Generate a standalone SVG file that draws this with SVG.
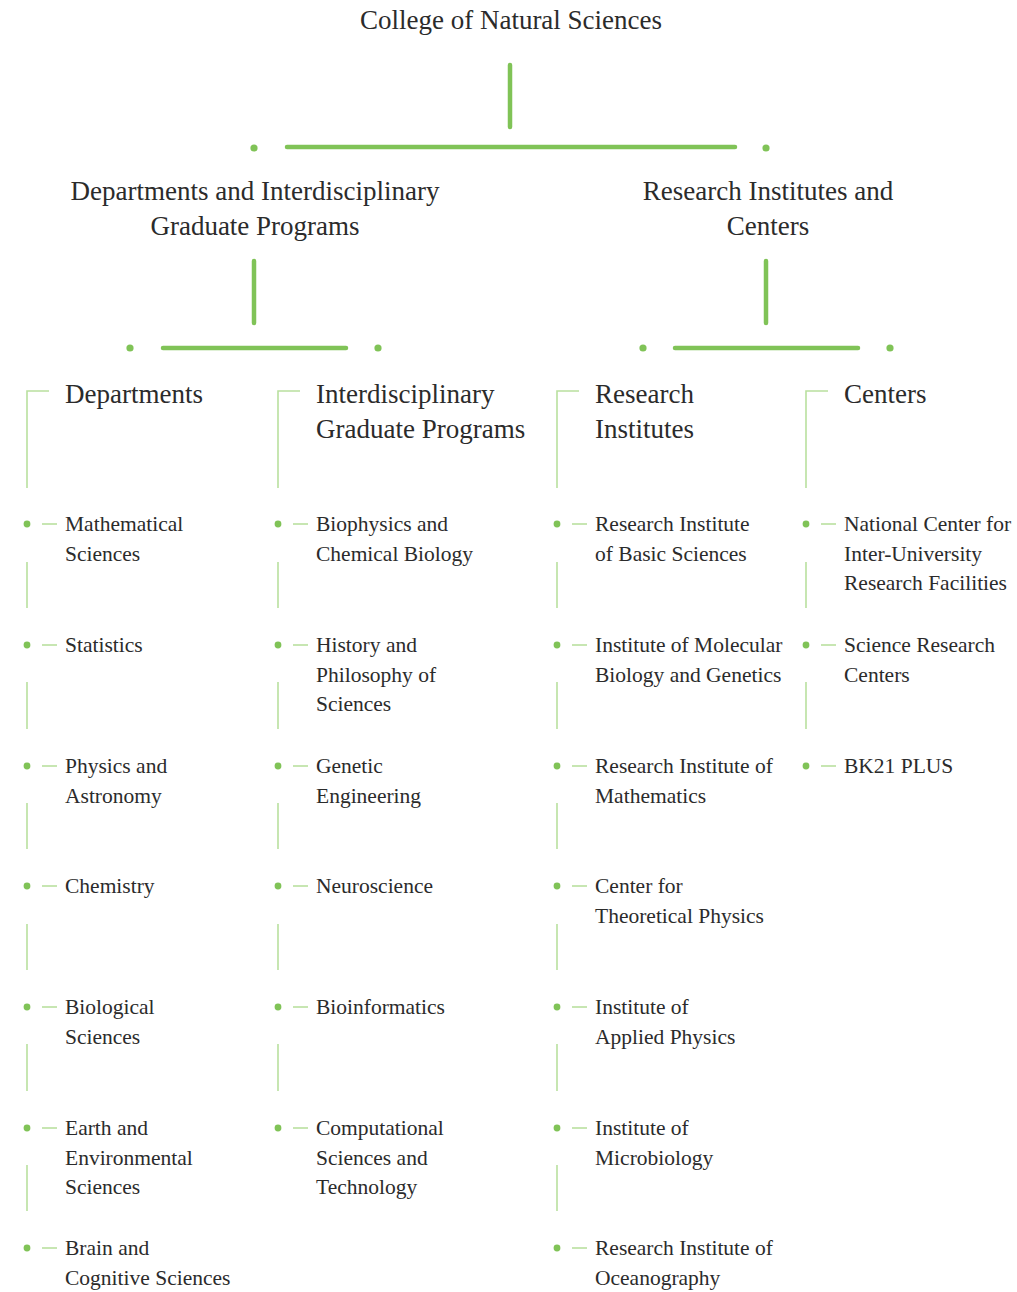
<svg xmlns="http://www.w3.org/2000/svg" width="1017" height="1292" viewBox="0 0 1017 1292">
<style>
text{font-family:"Liberation Serif","Times New Roman",serif;fill:#2b2b2b}
.t1{font-size:27px}
.t2{font-size:27px}
.h{font-size:27px}
.i{font-size:21.5px}
.main{stroke:#80c357;stroke-width:4.5;stroke-linecap:round;fill:none}
.dot{fill:#80c357}
.thin{stroke:#b9e09f;stroke-width:1.6;fill:none}
</style>
<rect width="1017" height="1292" fill="#fff"/>
<g id="connectors">
<line class="main" x1="510" y1="65" x2="510" y2="127"/>
<line class="main" x1="287" y1="147" x2="735" y2="147"/>
<circle class="dot" cx="254" cy="148" r="3.6"/>
<circle class="dot" cx="766" cy="148" r="3.6"/>
<line class="main" x1="254" y1="261" x2="254" y2="323"/>
<line class="main" x1="766" y1="261" x2="766" y2="323"/>
<line class="main" x1="163" y1="348" x2="346" y2="348"/>
<line class="main" x1="675" y1="348" x2="858" y2="348"/>
<circle class="dot" cx="130" cy="348" r="3.6"/>
<circle class="dot" cx="378" cy="348" r="3.6"/>
<circle class="dot" cx="643" cy="348" r="3.6"/>
<circle class="dot" cx="890" cy="348" r="3.6"/>
<path class="thin" d="M49 391H27V488"/>
<path class="thin" d="M300 391H278V488"/>
<path class="thin" d="M579 391H557V488"/>
<path class="thin" d="M828 391H806V488"/>
<path class="thin" d="M27 562V608M27 682V729M27 803V849M27 924V970M27 1044V1091M27 1165V1211"/>
<path class="thin" d="M278 562V608M278 682V729M278 803V849M278 924V970M278 1044V1091"/>
<path class="thin" d="M557 562V608M557 682V729M557 803V849M557 924V970M557 1044V1091M557 1165V1211"/>
<path class="thin" d="M806 562V608M806 682V729"/>
</g>
<g id="college"><text class="t1" x="511" y="29" text-anchor="middle">College of Natural Sciences</text></g>
<g id="dept-programs"><text class="t2" x="255" y="200" text-anchor="middle">Departments and Interdisciplinary<tspan x="255" dy="35">Graduate Programs</tspan></text></g>
<g id="institutes-centers"><text class="t2" x="768" y="200" text-anchor="middle">Research Institutes and<tspan x="768" dy="35">Centers</tspan></text></g>
<g id="h-departments"><text class="h" x="65" y="403">Departments</text></g>
<g id="h-igp"><text class="h" x="316" y="403">Interdisciplinary<tspan x="316" dy="34.5">Graduate Programs</tspan></text></g>
<g id="h-ri"><text class="h" x="595" y="403">Research<tspan x="595" dy="34.5">Institutes</tspan></text></g>
<g id="h-centers"><text class="h" x="844" y="403">Centers</text></g>
<g id="d1"><circle class="dot" cx="27" cy="524" r="3.4"/><line class="thin" x1="42" y1="524" x2="57" y2="524"/><text class="i" x="65" y="531">Mathematical<tspan x="65" dy="29.5">Sciences</tspan></text></g>
<g id="d2"><circle class="dot" cx="27" cy="645" r="3.4"/><line class="thin" x1="42" y1="645" x2="57" y2="645"/><text class="i" x="65" y="652">Statistics</text></g>
<g id="d3"><circle class="dot" cx="27" cy="766" r="3.4"/><line class="thin" x1="42" y1="766" x2="57" y2="766"/><text class="i" x="65" y="773">Physics and<tspan x="65" dy="29.5">Astronomy</tspan></text></g>
<g id="d4"><circle class="dot" cx="27" cy="886" r="3.4"/><line class="thin" x1="42" y1="886" x2="57" y2="886"/><text class="i" x="65" y="893">Chemistry</text></g>
<g id="d5"><circle class="dot" cx="27" cy="1007" r="3.4"/><line class="thin" x1="42" y1="1007" x2="57" y2="1007"/><text class="i" x="65" y="1014">Biological<tspan x="65" dy="29.5">Sciences</tspan></text></g>
<g id="d6"><circle class="dot" cx="27" cy="1128" r="3.4"/><line class="thin" x1="42" y1="1128" x2="57" y2="1128"/><text class="i" x="65" y="1135">Earth and<tspan x="65" dy="29.5">Environmental</tspan><tspan x="65" dy="29.5">Sciences</tspan></text></g>
<g id="d7"><circle class="dot" cx="27" cy="1248" r="3.4"/><line class="thin" x1="42" y1="1248" x2="57" y2="1248"/><text class="i" x="65" y="1255">Brain and<tspan x="65" dy="29.5">Cognitive Sciences</tspan></text></g>
<g id="p1"><circle class="dot" cx="278" cy="524" r="3.4"/><line class="thin" x1="293" y1="524" x2="308" y2="524"/><text class="i" x="316" y="531">Biophysics and<tspan x="316" dy="29.5">Chemical Biology</tspan></text></g>
<g id="p2"><circle class="dot" cx="278" cy="645" r="3.4"/><line class="thin" x1="293" y1="645" x2="308" y2="645"/><text class="i" x="316" y="652">History and<tspan x="316" dy="29.5">Philosophy of</tspan><tspan x="316" dy="29.5">Sciences</tspan></text></g>
<g id="p3"><circle class="dot" cx="278" cy="766" r="3.4"/><line class="thin" x1="293" y1="766" x2="308" y2="766"/><text class="i" x="316" y="773">Genetic<tspan x="316" dy="29.5">Engineering</tspan></text></g>
<g id="p4"><circle class="dot" cx="278" cy="886" r="3.4"/><line class="thin" x1="293" y1="886" x2="308" y2="886"/><text class="i" x="316" y="893">Neuroscience</text></g>
<g id="p5"><circle class="dot" cx="278" cy="1007" r="3.4"/><line class="thin" x1="293" y1="1007" x2="308" y2="1007"/><text class="i" x="316" y="1014">Bioinformatics</text></g>
<g id="p6"><circle class="dot" cx="278" cy="1128" r="3.4"/><line class="thin" x1="293" y1="1128" x2="308" y2="1128"/><text class="i" x="316" y="1135">Computational<tspan x="316" dy="29.5">Sciences and</tspan><tspan x="316" dy="29.5">Technology</tspan></text></g>
<g id="r1"><circle class="dot" cx="557" cy="524" r="3.4"/><line class="thin" x1="572" y1="524" x2="587" y2="524"/><text class="i" x="595" y="531">Research Institute<tspan x="595" dy="29.5">of Basic Sciences</tspan></text></g>
<g id="r2"><circle class="dot" cx="557" cy="645" r="3.4"/><line class="thin" x1="572" y1="645" x2="587" y2="645"/><text class="i" x="595" y="652">Institute of Molecular<tspan x="595" dy="29.5">Biology and Genetics</tspan></text></g>
<g id="r3"><circle class="dot" cx="557" cy="766" r="3.4"/><line class="thin" x1="572" y1="766" x2="587" y2="766"/><text class="i" x="595" y="773">Research Institute of<tspan x="595" dy="29.5">Mathematics</tspan></text></g>
<g id="r4"><circle class="dot" cx="557" cy="886" r="3.4"/><line class="thin" x1="572" y1="886" x2="587" y2="886"/><text class="i" x="595" y="893">Center for<tspan x="595" dy="29.5">Theoretical Physics</tspan></text></g>
<g id="r5"><circle class="dot" cx="557" cy="1007" r="3.4"/><line class="thin" x1="572" y1="1007" x2="587" y2="1007"/><text class="i" x="595" y="1014">Institute of<tspan x="595" dy="29.5">Applied Physics</tspan></text></g>
<g id="r6"><circle class="dot" cx="557" cy="1128" r="3.4"/><line class="thin" x1="572" y1="1128" x2="587" y2="1128"/><text class="i" x="595" y="1135">Institute of<tspan x="595" dy="29.5">Microbiology</tspan></text></g>
<g id="r7"><circle class="dot" cx="557" cy="1248" r="3.4"/><line class="thin" x1="572" y1="1248" x2="587" y2="1248"/><text class="i" x="595" y="1255">Research Institute of<tspan x="595" dy="29.5">Oceanography</tspan></text></g>
<g id="c1"><circle class="dot" cx="806" cy="524" r="3.4"/><line class="thin" x1="821" y1="524" x2="836" y2="524"/><text class="i" x="844" y="531">National Center for<tspan x="844" dy="29.5">Inter-University</tspan><tspan x="844" dy="29.5">Research Facilities</tspan></text></g>
<g id="c2"><circle class="dot" cx="806" cy="645" r="3.4"/><line class="thin" x1="821" y1="645" x2="836" y2="645"/><text class="i" x="844" y="652">Science Research<tspan x="844" dy="29.5">Centers</tspan></text></g>
<g id="c3"><circle class="dot" cx="806" cy="766" r="3.4"/><line class="thin" x1="821" y1="766" x2="836" y2="766"/><text class="i" x="844" y="773">BK21 PLUS</text></g>
</svg>
